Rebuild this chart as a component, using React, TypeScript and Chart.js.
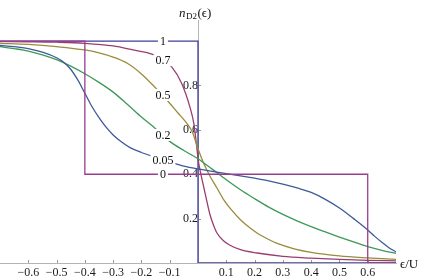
import React, { useEffect, useRef } from 'react';
import { Chart, registerables } from 'chart.js';

Chart.register(...registerables);

// ---- data ----
const xTicks = [-0.6, -0.5, -0.4, -0.3, -0.2, -0.1, 0.1, 0.2, 0.3, 0.4, 0.5, 0.6];
const yTicks = [0.2, 0.4, 0.6, 0.8];

const seriesNames = ['1', '0.7', '0.5', '0.2', '0.05', '0'];
const seriesColors = ['#3f3d99', '#993d71', '#998c3d', '#3d9956', '#3d5a99', '#993d90'];
const seriesSmooth = [false, true, true, true, true, false];

const x1 = [-0.7, 0, 0, 0.7];
const y1 = [1, 1, 0, 0];

const x07 = [-0.7, -0.6, -0.5, -0.4, -0.3, -0.23, -0.16, -0.125, -0.093, -0.058, -0.028, -0.015, -0.005, 0, 0.007, 0.018, 0.031, 0.043, 0.055, 0.067, 0.09, 0.113, 0.15, 0.209, 0.3, 0.4, 0.5, 0.6, 0.7];
const y07 = [0.998, 0.997, 0.995, 0.99, 0.978, 0.96, 0.94, 0.915, 0.884, 0.81, 0.7, 0.63, 0.53, 0.47, 0.42, 0.355, 0.28, 0.215, 0.17, 0.135, 0.1, 0.08, 0.06, 0.045, 0.03, 0.022, 0.016, 0.012, 0.01];

const x05s = [-0.7, -0.6, -0.5, -0.4, -0.35, -0.3, -0.25, -0.2, -0.15, -0.1, -0.07, -0.04, -0.02, 0, 0.02, 0.043, 0.066, 0.09, 0.12, 0.15, 0.18, 0.21, 0.25, 0.28, 0.34, 0.4, 0.5, 0.6, 0.7];
const y05s = [0.99, 0.985, 0.975, 0.96, 0.947, 0.928, 0.9, 0.852, 0.789, 0.72, 0.675, 0.63, 0.59, 0.515, 0.45, 0.39, 0.34, 0.287, 0.237, 0.195, 0.162, 0.134, 0.106, 0.088, 0.064, 0.048, 0.032, 0.023, 0.016];

const x02 = [-0.7, -0.65, -0.6, -0.55, -0.5, -0.45, -0.4, -0.35, -0.3, -0.25, -0.2, -0.15, -0.1, -0.05, 0, 0.05, 0.1, 0.15, 0.2, 0.25, 0.3, 0.35, 0.4, 0.45, 0.5, 0.55, 0.6, 0.65, 0.7];
const y02 = [0.975, 0.966, 0.955, 0.938, 0.916, 0.887, 0.853, 0.814, 0.77, 0.715, 0.658, 0.605, 0.548, 0.507, 0.47, 0.423, 0.375, 0.33, 0.29, 0.252, 0.219, 0.19, 0.164, 0.14, 0.117, 0.095, 0.074, 0.057, 0.043];

const x005 = [-0.7, -0.65, -0.6, -0.55, -0.5, -0.475, -0.45, -0.425, -0.4, -0.375, -0.35, -0.325, -0.3, -0.27, -0.24, -0.2, -0.15, -0.1, -0.05, 0, 0.05, 0.1, 0.15, 0.2, 0.25, 0.3, 0.35, 0.4, 0.45, 0.5, 0.55, 0.6, 0.625, 0.65, 0.675, 0.7];
const y005 = [0.98, 0.975, 0.966, 0.95, 0.925, 0.905, 0.873, 0.825, 0.765, 0.705, 0.655, 0.612, 0.577, 0.545, 0.52, 0.498, 0.476, 0.455, 0.437, 0.424, 0.413, 0.403, 0.393, 0.382, 0.37, 0.355, 0.338, 0.318, 0.287, 0.248, 0.2, 0.149, 0.12, 0.093, 0.069, 0.05];

const x0 = [-0.7, -0.4, -0.4, 0.6, 0.6, 0.7];
const y0 = [1, 1, 0.4, 0.4, 0, 0];

const seriesX = [x1, x07, x05s, x02, x005, x0];
const seriesY = [y1, y07, y05s, y02, y005, y0];

const labelX = -0.124;
const labelY = [1.0, 0.914, 0.757, 0.577, 0.464, 0.4];

const FONT = "'Liberation Serif', 'DejaVu Serif', serif";

const fmt = (v: number) => (v < 0 ? '\u2212' + Math.abs(v).toFixed(1) : v.toFixed(1));

const tickMarks = {
  id: 'tickMarks',
  beforeDatasetsDraw(chart: any) {
    const { ctx, scales } = chart;
    const xs = scales.x, ys = scales.y;
    const px0 = xs.getPixelForValue(0);
    const py0 = ys.getPixelForValue(0);
    ctx.save();
    ctx.strokeStyle = '#9a9a9a';
    ctx.lineWidth = 1;
    ctx.beginPath();
    xTicks.forEach((v) => {
      const p = Math.round(xs.getPixelForValue(v)) + 0.5;
      ctx.moveTo(p, py0);
      ctx.lineTo(p, py0 - 3);
    });
    yTicks.forEach((v) => {
      const p = Math.round(ys.getPixelForValue(v)) + 0.5;
      ctx.moveTo(px0, p);
      ctx.lineTo(px0 + 3, p);
    });
    ctx.stroke();
    ctx.restore();
  },
};

const curveLabels = {
  id: 'curveLabels',
  afterDatasetsDraw(chart: any) {
    const { ctx, scales } = chart;
    ctx.save();
    ctx.font = `12px ${FONT}`;
    ctx.textAlign = 'center';
    ctx.textBaseline = 'middle';
    seriesNames.forEach((name, i) => {
      const px = scales.x.getPixelForValue(labelX);
      const py = scales.y.getPixelForValue(labelY[i]);
      const w = ctx.measureText(name).width + 4;
      ctx.fillStyle = '#ffffff';
      ctx.fillRect(px - w / 2, py - 6, w, 12);
      ctx.fillStyle = '#111111';
      ctx.fillText(name, px, py + 1);
    });
    ctx.restore();
  },
};

const axisTitles = {
  id: 'axisTitles',
  afterDraw(chart: any) {
    const { ctx, scales } = chart;
    const px0 = scales.x.getPixelForValue(0);
    const py0 = scales.y.getPixelForValue(0);
    const right = chart.chartArea.right;
    ctx.save();
    ctx.fillStyle = '#111111';
    ctx.textBaseline = 'alphabetic';
    ctx.textAlign = 'left';
    // n_D2(ϵ)
    let x = px0 - 19;
    const base = 17;
    ctx.font = `italic 13px ${FONT}`;
    ctx.fillText('n', x, base);
    x += ctx.measureText('n').width + 0.5;
    ctx.font = `9px ${FONT}`;
    ctx.fillText('D2', x, base + 2);
    x += ctx.measureText('D2').width + 0.5;
    ctx.font = `13px ${FONT}`;
    ctx.fillText('(\u03F5)', x, base);
    // ϵ/U
    ctx.font = `13px ${FONT}`;
    ctx.fillText('\u03F5/U', right + 4, py0 + 5);
    ctx.restore();
  },
};

export default function App() {
  const ref = useRef<HTMLCanvasElement | null>(null);

  useEffect(() => {
    if (!ref.current) return;
    const datasets = seriesNames.map((name, i) => ({
      label: name,
      data: seriesX[i].map((xv, j) => ({ x: xv, y: seriesY[i][j] })),
      borderColor: seriesColors[i],
      backgroundColor: seriesColors[i],
      borderWidth: 1.3,
      pointRadius: 0,
      fill: false,
      tension: 0,
      cubicInterpolationMode: seriesSmooth[i] ? 'monotone' : 'default',
      order: -i,
    }));

    const chart = new Chart(ref.current, {
      type: 'line',
      data: { datasets: datasets as any },
      options: {
        responsive: false,
        animation: false,
        devicePixelRatio: 1,
        layout: { padding: { left: 0, right: 25, top: 20, bottom: 16 } },
        plugins: { legend: { display: false }, tooltip: { enabled: false } },
        scales: {
          x: {
            type: 'linear',
            min: -0.7,
            max: 0.7,
            position: { y: 0 } as any,
            grid: { display: false, drawTicks: false },
            border: { display: true, color: '#b4b4b4', width: 1 },
            afterBuildTicks: (s: any) => {
              s.ticks = xTicks.map((v) => ({ value: v }));
            },
            ticks: {
              autoSkip: false,
              maxRotation: 0,
              padding: 3,
              color: '#1a1a1a',
              font: { family: FONT, size: 12 },
              callback: (v: any) => fmt(Number(v)),
            },
          },
          y: {
            type: 'linear',
            min: 0,
            max: 1.095,
            position: { x: 0 } as any,
            grid: { display: false, drawTicks: false },
            border: { display: true, color: '#b4b4b4', width: 1 },
            afterBuildTicks: (s: any) => {
              s.ticks = yTicks.map((v) => ({ value: v }));
            },
            ticks: {
              autoSkip: false,
              padding: 2,
              color: '#1a1a1a',
              font: { family: FONT, size: 12 },
              callback: (v: any) => fmt(Number(v)),
            },
          },
        },
      },
      plugins: [tickMarks, curveLabels, axisTitles],
    });
    return () => chart.destroy();
  }, []);

  return (
    <div style={{ position: 'fixed', left: 0, top: 0, width: 421, height: 279, background: '#fff' }}>
      <canvas ref={ref} width={421} height={279} style={{ width: 421, height: 279, display: 'block' }} />
    </div>
  );
}
